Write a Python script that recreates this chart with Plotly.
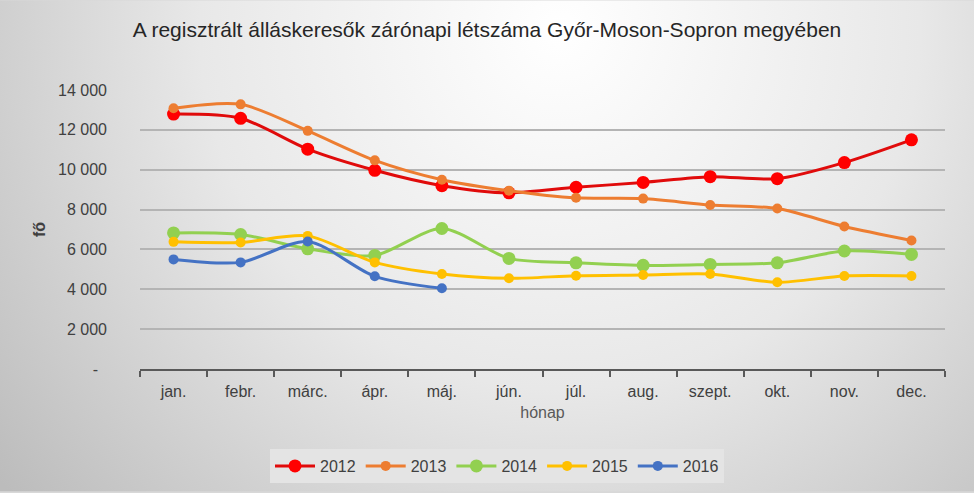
import base64
import plotly.graph_objects as go

months = ['jan.', 'febr.', 'márc.', 'ápr.', 'máj.', 'jún.', 'júl.', 'aug.', 'szept.', 'okt.', 'nov.', 'dec.']
y2012 = [12790, 12580, 11030, 9970, 9200, 8840, 9120, 9360, 9650, 9550, 10360, 11500]
y2013 = [13080, 13280, 11950, 10470, 9500, 8950, 8590, 8550, 8230, 8050, 7150, 6450]
y2014 = [6830, 6750, 6030, 5700, 7050, 5550, 5330, 5200, 5250, 5330, 5920, 5750]
y2015 = [6380, 6350, 6680, 5350, 4770, 4550, 4680, 4720, 4770, 4350, 4670, 4670]
y2016 = [5500, 5350, 6400, 4650, 4050]
ytickvals = [0, 2000, 4000, 6000, 8000, 10000, 12000, 14000]
yticktext = ['-  ' if v == 0 else f"{v:,}".replace(',', ' ') for v in ytickvals]

series = [
    ('2012', y2012, '#E00B0B', '#FF0000', 13),
    ('2013', y2013, '#ED7D31', '#ED7D31', 10),
    ('2014', y2014, '#92D050', '#92D050', 13),
    ('2015', y2015, '#FFC000', '#FFC000', 10),
    ('2016', y2016, '#4472C4', '#4472C4', 10),
]

W, H = 974, 493
L, R, T, B = 140, 29, 90, 123
pw, ph = W - L - R, H - T - B

svg = f'''<svg xmlns="http://www.w3.org/2000/svg" width="{W}" height="{H}">
<defs><radialGradient id="g" gradientUnits="userSpaceOnUse" cx="560" cy="30" r="720">
<stop offset="0" stop-color="#FFFFFF"/><stop offset="0.5" stop-color="#E8E8E8"/><stop offset="1" stop-color="#BCBCBC"/>
</radialGradient></defs><rect width="{W}" height="{H}" fill="url(#g)"/></svg>'''
src = 'data:image/svg+xml;base64,' + base64.b64encode(svg.encode()).decode()

fig = go.Figure()
for name, ys, lc, mc, ms in series:
    fig.add_trace(go.Scatter(
        x=months[:len(ys)], y=ys, name=name, mode='lines+markers',
        line=dict(color=lc, width=3, shape='spline', smoothing=0.8),
        marker=dict(color=mc, size=ms),
    ))

font = 'Liberation Sans, Arial, sans-serif'
fig.update_layout(
    width=W, height=H,
    margin=dict(l=L, r=R, t=T, b=B),
    paper_bgcolor='#D8D8D8', plot_bgcolor='rgba(0,0,0,0)',
    font=dict(family=font, size=16, color='#404040'),
    title=dict(text='A regisztrált álláskeresők zárónapi létszáma Győr-Moson-Sopron megyében',
               x=(487 - L) / pw, xref='paper', xanchor='center', y=1 - 30 / H, yanchor='middle',
               font=dict(size=21, color='#262626')),
    images=[dict(source=src, xref='paper', yref='paper', x=-L / pw, y=1 + T / ph,
                 sizex=W / pw, sizey=H / ph, sizing='stretch', xanchor='left', yanchor='top',
                 layer='below')],
    xaxis=dict(type='category', range=[-0.5, 11.5], showgrid=False,
               showline=True, linecolor='#595959', linewidth=2,
               ticks='outside', tickson='boundaries', ticklen=6, tickcolor='#595959', tickwidth=2,
               ticklabelstandoff=7,
               tickfont=dict(size=16, color='#404040'),
               title=dict(text='hónap', font=dict(size=16, color='#595959'), standoff=8)),
    yaxis=dict(range=[0, 14000], tickvals=ytickvals, ticktext=yticktext,
               showgrid=True, gridcolor='#B4B4B4', gridwidth=1.5, zeroline=False,
               showline=False, ticks='', ticklabelstandoff=32,
               tickfont=dict(size=16, color='#404040'),
               title=dict(text='<b>fő</b>', font=dict(size=16, color='#404040'), standoff=8)),
    legend=dict(orientation='h', x=(497 - L) / pw, xanchor='center', y=-(466 - 370) / ph, yanchor='middle',
                bgcolor='#E4E4E4', font=dict(size=16, color='#404040'),
                itemwidth=40, tracegroupgap=0, traceorder='normal'),
    showlegend=True,
)
fig.write_html('out.html')
